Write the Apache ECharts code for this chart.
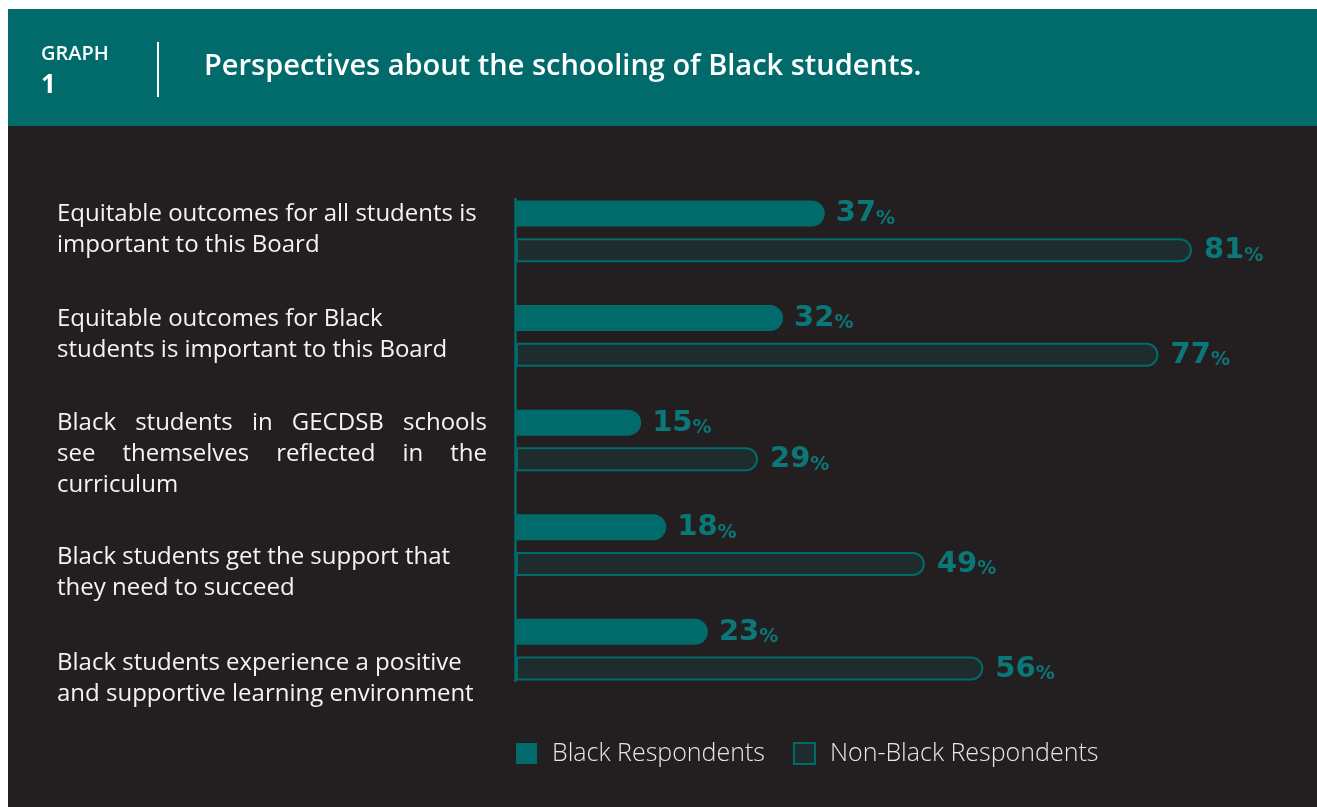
<!DOCTYPE html>
<html>
<head>
<meta charset="utf-8">
<script src="https://cdn.jsdelivr.net/npm/echarts@6.0.0/dist/echarts.min.js"></script>
<style>
  html, body { margin: 0; padding: 0; background: #ffffff; }
  #chart { width: 1317px; height: 807px; }
</style>
</head>
<body>
<div id="chart"></div>
<script>
// ---- data ----
const categories = [
  'Equitable outcomes for all students is\nimportant to this Board',
  'Equitable outcomes for Black\nstudents is important to this Board',
  'Black students in GECDSB schools\nsee themselves reflected in the\ncurriculum',
  'Black students get the support that\nthey need to succeed',
  'Black students experience a positive\nand supportive learning environment'
];
const blackValues = [37, 32, 15, 18, 23];
const nonBlackValues = [81, 77, 29, 49, 56];
const seriesNames = ['Black Respondents', 'Non-Black Respondents'];
const titleText = 'Perspectives about the schooling of Black students.';
const graphLabel = 'GRAPH';
const graphNumber = '1';

// ---- style ----
const TEAL = '#016b6c';
const TEAL_LABEL = '#0a7879';
const DARK = '#231f20';
const NONFILL = '#1f2c2d';
const labelShift = [-2, -1.5, 14, 28, 29];
const justifyIndex = 2;       // the label that is set justified in the original
const justifyWidth = 430;     // justified line width in px
const LABEL_FONT_SIZE = 24;
const LABEL_FONT = '"Open Sans"';

const chart = echarts.init(document.getElementById('chart'), null, { renderer: 'canvas' });

const measureCtx = document.createElement('canvas').getContext('2d');
measureCtx.font = LABEL_FONT_SIZE + 'px ' + LABEL_FONT;

const richY = { t: { fontFamily: 'Open Sans', fontSize: LABEL_FONT_SIZE, lineHeight: 31, color: '#f4f4f4' } };
labelShift.forEach(function (d, i) {
  richY['s' + i] = { fontSize: 1, lineHeight: Math.max(1, Math.abs(d) * 2) };
});

function justifyLine(line, key) {
  const words = line.split(' ');
  if (words.length < 2) return '{t|' + line + '}';
  let sum = 0;
  words.forEach(function (w) { sum += measureCtx.measureText(w).width; });
  const gap = (justifyWidth - sum) / (words.length - 1);
  richY[key] = { fontFamily: 'Open Sans', fontSize: LABEL_FONT_SIZE, lineHeight: 31, width: gap, color: '#f4f4f4' };
  return words.map(function (w) { return '{t|' + w + '}'; }).join('{' + key + '| }');
}

function buildLabel(value, idx) {
  const raw = value.split('\n');
  const lines = raw.map(function (l, li) {
    if (idx === justifyIndex && li < raw.length - 1) return justifyLine(l, 'j' + idx + '_' + li);
    return '{t|' + l + '}';
  });
  const d = labelShift[idx] || 0;
  if (d > 0) lines.unshift('{s' + idx + '| }');
  else if (d < 0) lines.push('{s' + idx + '| }');
  return lines.join('\n');
}
const formattedLabels = categories.map(buildLabel);

const valueRich = {
  n: { fontFamily: 'DejaVu Sans', fontWeight: 'bold', fontSize: 29, lineHeight: 30, color: TEAL_LABEL, verticalAlign: 'bottom' },
  p: { fontFamily: 'DejaVu Sans', fontWeight: 'bold', fontSize: 19, lineHeight: 25, color: TEAL_LABEL, verticalAlign: 'bottom' }
};

const option = {
  backgroundColor: '#ffffff',
  animation: false,
  graphic: [
    { type: 'rect', z: -10, shape: { x: 8, y: 126, width: 1309, height: 681 }, style: { fill: DARK } },
    { type: 'rect', z: -10, shape: { x: 8, y: 9, width: 1309, height: 117 }, style: { fill: TEAL } },
    { type: 'text', z: 5, x: 41, y: 54, style: { text: graphLabel, fill: '#ffffff', font: '600 20px "Open Sans"', textVerticalAlign: 'middle' } },
    { type: 'text', z: 5, x: 41, y: 86, style: { text: graphNumber, fill: '#ffffff', font: 'bold 26px "Open Sans"', textVerticalAlign: 'middle' } },
    { type: 'line', z: 5, shape: { x1: 158, y1: 42, x2: 158, y2: 97 }, style: { stroke: '#ffffff', lineWidth: 2 } },
    { type: 'text', z: 5, x: 204, y: 67, style: { text: titleText, fill: '#ffffff', font: '600 29px "Open Sans"', textVerticalAlign: 'middle' } }
  ],
  legend: {
    left: 516,
    top: 741,
    padding: 0,
    itemWidth: 21,
    itemHeight: 21,
    itemGap: 28,
    icon: 'rect',
    textStyle: { fontFamily: 'Open Sans', fontWeight: 300, fontSize: 25, color: '#e6e6e6', padding: [0, 0, 0, 10] },
    data: [
      { name: seriesNames[0], itemStyle: { color: TEAL, borderWidth: 0 } },
      { name: seriesNames[1], itemStyle: { color: NONFILL, borderColor: TEAL, borderWidth: 2 } }
    ]
  },
  grid: [
    { left: 516, right: 50, top: 179, height: 523, containLabel: false },
    { left: 515, width: 10, top: 199, height: 482, containLabel: false }
  ],
  xAxis: [
    { gridIndex: 0, type: 'value', min: 0, max: 90, show: false },
    { gridIndex: 1, type: 'value', min: 0, max: 1, show: false }
  ],
  yAxis: [
    {
      gridIndex: 0,
      type: 'category',
      inverse: true,
      data: categories,
      axisLine: { show: false },
      axisTick: { show: false },
      axisLabel: {
        align: 'left',
        margin: 459,
        formatter: function (value, idx) { return formattedLabels[idx]; },
        rich: richY
      }
    },
    {
      gridIndex: 1,
      type: 'category',
      data: [''],
      axisLine: { show: true, lineStyle: { color: TEAL, width: 2.5 } },
      axisTick: { show: false },
      axisLabel: { show: false }
    }
  ],
  series: [
    {
      name: seriesNames[0],
      type: 'bar',
      xAxisIndex: 0,
      yAxisIndex: 0,
      data: blackValues,
      barWidth: 26,
      barGap: '45%',
      itemStyle: { color: TEAL, borderRadius: [0, 13, 13, 0] },
      label: {
        show: true,
        position: 'right',
        distance: 11,
        formatter: function (p) { return '{n|' + p.value + '}{p|%}'; },
        rich: valueRich
      }
    },
    {
      name: seriesNames[1],
      type: 'bar',
      xAxisIndex: 0,
      yAxisIndex: 0,
      data: nonBlackValues,
      barWidth: 24,
      itemStyle: { color: NONFILL, borderColor: TEAL, borderWidth: 2, borderRadius: [0, 12, 12, 0] },
      label: {
        show: true,
        position: 'right',
        distance: 12,
        formatter: function (p) { return '{n|' + p.value + '}{p|%}'; },
        rich: valueRich
      }
    }
  ]
};

chart.setOption(option);
</script>
</body>
</html>
